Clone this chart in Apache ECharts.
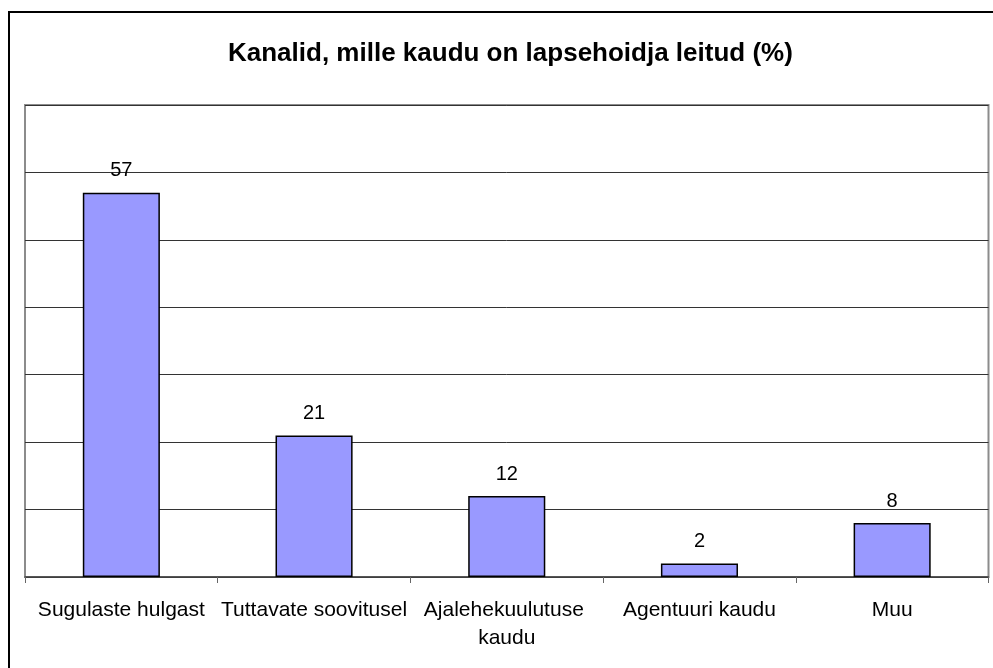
<!DOCTYPE html>
<html>
<head>
<meta charset="utf-8">
<script src="https://cdn.jsdelivr.net/npm/echarts@6/dist/echarts.min.js"></script>
<style>
  html, body { margin: 0; padding: 0; background: #fff; }
  #chart { width: 993px; height: 668px; }
</style>
</head>
<body>
<div id="chart"></div>
<script>
// kanalid ja protsendid
const categories = ["Sugulaste hulgast", "Tuttavate soovitusel", "Ajalehekuulutuse kaudu", "Agentuuri kaudu", "Muu"];
const values = [57, 21, 12, 2, 8];
const yMin = 0;
const yMax = 70;
const yStep = 10;

const font = "'Liberation Sans', Arial, sans-serif";

const chart = echarts.init(document.getElementById("chart"));
chart.setOption({
  animation: false,
  title: {
    text: "Kanalid, mille kaudu on lapsehoidja leitud (%)",
    left: 223,
    top: 36,
    textStyle: { fontFamily: font, fontSize: 26, fontWeight: "bold", color: "#000" }
  },
  graphic: [
    {
      type: "rect",
      shape: { x: 9, y: 12, width: 1000, height: 700 },
      style: { fill: "none", stroke: "#000", lineWidth: 2 }
    }
  ],
  grid: {
    left: 25,
    right: 3,
    top: 105,
    bottom: 91,
    show: true,
    borderColor: "#8c8c8c",
    borderWidth: 2,
    backgroundColor: "#fff"
  },
  xAxis: {
    type: "category",
    data: categories,
    axisLine: { lineStyle: { color: "#444", width: 1.5 } },
    axisTick: { show: true, length: 6, lineStyle: { color: "#666" } },
    axisLabel: {
      interval: 0,
      margin: 19,
      width: 196,
      overflow: "break",
      lineHeight: 28,
      color: "#000",
      fontFamily: font,
      fontSize: 21
    }
  },
  yAxis: {
    type: "value",
    min: yMin,
    max: yMax,
    interval: yStep,
    axisLine: { show: false },
    axisTick: { show: false },
    axisLabel: { show: false },
    splitLine: { lineStyle: { color: "#333", width: 1 } }
  },
  series: [
    {
      type: "bar",
      data: values,
      barWidth: "40%",
      itemStyle: { color: "#9999ff", borderColor: "#000", borderWidth: 1.5 },
      label: {
        show: true,
        position: "top",
        distance: 12,
        color: "#000",
        fontFamily: font,
        fontSize: 20
      }
    }
  ]
});
</script>
</body>
</html>
